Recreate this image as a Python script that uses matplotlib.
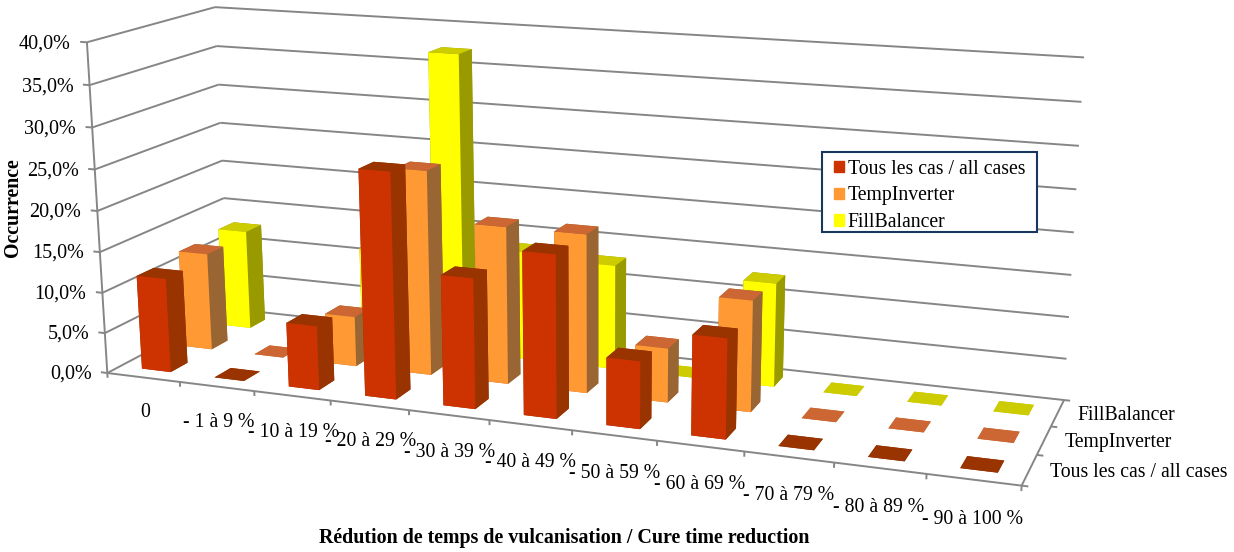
# -*- coding: utf-8 -*-
import numpy as np
import matplotlib
matplotlib.use('Agg')
import matplotlib.pyplot as plt
from matplotlib.patches import Rectangle

plt.rcParams['font.family'] = ['Liberation Serif', 'DejaVu Serif']

categories = ['0', '- 1 à 9 %', '- 10 à 19 %', '- 20 à 29 %', '- 30 à 39 %', '- 40 à 49 %',
              '- 50 à 59 %', '- 60 à 69 %', '- 70 à 79 %', '- 80 à 89 %', '- 90 à 100 %']
series_names = ['Tous les cas / all cases', 'TempInverter', 'FillBalancer']
tous = [11.6, 0, 7.8, 27.0, 15.5, 19.2, 7.9, 11.6, 0, 0, 0]
temp = [12.2, 0, 6.2, 25.0, 19.1, 19.1, 6.5, 13.2, 0, 0, 0]
fill = [12.7, 0, 12.0, 37.2, 13.5, 12.9, 0, 12.6, 0, 0, 0]
z_ticks = [0, 5, 10, 15, 20, 25, 30, 35, 40]
z_labels = ['0,0%', '5,0%', '10,0%', '15,0%', '20,0%', '25,0%', '30,0%', '35,0%', '40,0%']

# (front, top, side) colours for each series
red = ['#CC3300', '#993300', '#993300']
orange = ['#FF9933', '#CC6633', '#996633']
yellow = ['#FFFF00', '#CCCC00', '#999900']
grid_color = '#868686'

W, H = 1234, 552
nx, ny, zmax = len(categories), len(series_names), z_ticks[-1]

# camera: fit a projective matrix on where the frame of the box lands in the image
world = [(0, 0, 0), (0, 0, 40), (0, 3, 40), (0, 3, 0), (11, 3, 40), (11, 3, 0), (11, 0, 0),
         (1, 0, 0), (3, 0, 0), (5, 0, 0), (7, 0, 0), (9, 0, 0)]
image = [(107, 372), (87, 43), (215, 6), (229, 311), (1084, 58), (1064, 398), (1022, 487),
         (180, 381), (331, 400), (489, 420), (657, 441), (834, 463)]


def fit_camera(world, image):
    A, b = [], []
    for (x, y, z), (u, v) in zip(world, image):
        A.append([x, y, z, 1, 0, 0, 0, 0, -u*x, -u*y, -u*z])
        b.append(u)
        A.append([0, 0, 0, 0, x, y, z, 1, -v*x, -v*y, -v*z])
        b.append(v)
    p = np.linalg.lstsq(np.array(A, float), np.array(b, float), rcond=None)[0]
    # third row gives depth: -1/w grows with the distance to the camera
    return np.array([p[0:4], p[4:8], [0, 0, 0, -1], [p[8], p[9], p[10], 1]])


M = fit_camera(world, image)

fig = plt.figure(figsize=(W/100, H/100), dpi=100)
# ortho only switches off the clipping of lines, the projection is M anyway
ax = fig.add_axes([0, 0, 1, 1], projection='3d', computed_zorder=False, proj_type='ortho')
ax.get_proj = lambda: M
ax.apply_aspect = lambda position=None: None
ax.viewLim.intervalx = (0, W)
ax.viewLim.intervaly = (H, 0)
ax.set_axis_off()


def line(x, y, z):
    ax.plot(x, y, z, color=grid_color, lw=1.4, zorder=1, solid_capstyle='butt')


def label(x, y, z, s, dy=0, **kw):
    # text goes on the figure, at the place the camera gives for (x, y, z)
    v = M @ np.array([x, y, z, 1.0])
    fig.text(v[0]/v[3]/W, 1 - (v[1]/v[3] + dy)/H, s, va='center', **kw)


# walls
for z in z_ticks:
    line([0, 0], [0, ny], [z, z])
    line([0, nx], [ny, ny], [z, z])
    line([-0.09, 0], [0, 0], [z, z])
line([0, 0], [0, 0], [0, zmax])
line([0, nx], [0, 0], [0, 0])
line([nx, nx], [0, ny], [0, 0])
for i in range(nx + 1):
    line([i, i], [0, 0], [-0.6, 0])
for j in range(ny + 1):
    line([nx, nx + 0.07], [j, j], [0, 0])

# bars, back series first
width = 0.4
for j, (vals, cols) in reversed(list(enumerate(zip([tous, temp, fill], [red, orange, yellow])))):
    front, top, side = cols
    for i, v in enumerate(vals):
        # faces: -z, +z, -y, +y, -x, +x
        ax.bar3d([i + 0.3], [j + 0.3], [0], width, width, v, shade=False,
                 color=[top, top, front, side, side, side], edgecolor='none',
                 zorder=10 + (2 - j)*20 + i)

for z, lab in zip(z_ticks, z_labels):
    label(-0.22, 0, z, lab, dy=3, ha='right', fontsize=14.5)
for i, lab in enumerate(categories):
    label(i + 0.5, 0, -3.9, lab, dy=4.5, ha='center', fontsize=14.2)
for j, lab in enumerate(series_names):
    label(nx + 0.22, j + 0.5, 0, lab, ha='left', fontsize=14.2)

fig.text(13/W, 1 - 208/H, 'Occurrence', rotation=90, ha='center', va='center',
         fontsize=14.3, fontweight='bold')
fig.text(564/W, 1 - 538/H, 'Rédution de temps de vulcanisation / Cure time reduction',
         ha='center', va='center', fontsize=14.4, fontweight='bold')

# legend box is drawn on its own, the frame of legend() can't have different x and y padding
fig.add_artist(Rectangle((822/W, 1 - 232/H), 215/W, 80/H, transform=fig.transFigure,
                         facecolor='white', edgecolor='#17375E', lw=1.5, zorder=5))
handles = [Rectangle((0, 0), 1, 1, color=c[0]) for c in (red, orange, yellow)]
leg = fig.legend(handles, series_names, loc='upper left', bbox_to_anchor=(834/W, 1 - 159.5/H),
                 fontsize=14.2, frameon=False,
                 handlelength=0.5, handleheight=0.5, handletextpad=0.2, labelspacing=0.39,
                 borderpad=0, borderaxespad=0)
leg.set_zorder(6)

fig.savefig('out.png', dpi=100)
